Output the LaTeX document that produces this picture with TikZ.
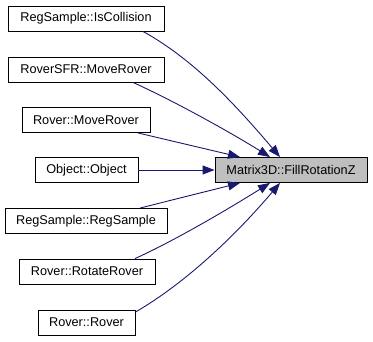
\documentclass[tikz,border=0pt]{standalone}
\usepackage{fontspec}
\setmainfont{Liberation Sans}
\usetikzlibrary{arrows.meta}
\definecolor{edgeblue}{RGB}{25,25,112}
\definecolor{hilite}{RGB}{191,191,191}
\begin{document}
\begin{tikzpicture}[x=1pt,y=-1pt,
  fn/.style={draw=black, line width=0.9pt, rectangle, minimum height=25pt,
    inner xsep=0pt, font=\fontsize{12.7}{15}\selectfont, text=black},
  call/.style={draw=edgeblue, line width=0.9pt,
    -{Triangle[length=12pt,width=9pt,fill=edgeblue]}}]
\useasboundingbox (0,0) rectangle (373,341);

% callers
\node[fn, minimum width=156pt] (isc) at (86,18.5)  {RegSample::IsCollision};
\node[fn, minimum width=156pt] (sfr) at (86,69.5)  {RoverSFR::MoveRover};
\node[fn, minimum width=128pt] (mov) at (86,120)   {Rover::MoveRover};
\node[fn, minimum width=103pt] (obj) at (86.5,170) {Object::Object};
\node[fn, minimum width=162pt] (reg) at (86,221)   {RegSample::RegSample};
\node[fn, minimum width=136pt] (rot) at (87,271.5) {Rover::RotateRover};
\node[fn, minimum width=97pt]  (rov) at (86.5,322.5) {Rover::Rover};

% the called function
\node[fn, fill=hilite, minimum width=152pt] (fz) at (291,170) {Matrix3D::FillRotationZ};

% call edges
\draw[call] ([xshift=57pt]isc.south) .. controls +(50,27.5) and +(-45,-53) .. ([xshift=-11pt]fz.north);
\draw[call] ([xshift=47pt]sfr.south) .. controls +(40,18) and +(-40,-25) .. ([xshift=-21pt]fz.north);
\draw[call] ([xshift=52pt]mov.south) -- ([xshift=-51pt]fz.north);
\draw[call] (obj.east) -- (fz.west);
\draw[call] ([xshift=54pt]reg.north) -- ([xshift=-51pt]fz.south);
\draw[call] ([xshift=48pt]rot.north) .. controls +(40,-18) and +(-40,25) .. ([xshift=-21pt]fz.south);
\draw[call] ([yshift=-2.5pt]rov.north east) .. controls +(50,-29) and +(-45,53) .. ([xshift=-11pt]fz.south);
\end{tikzpicture}
\end{document}
